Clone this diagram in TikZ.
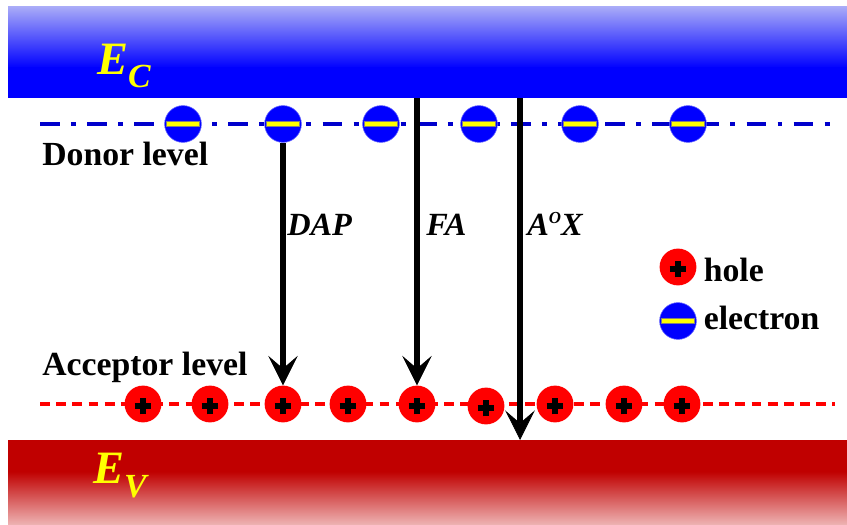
\documentclass[tikz,border=0pt]{standalone}
\usepackage{fontspec}
\setmainfont{Liberation Serif}
\usepackage{xcolor}
\usepackage{tikz}
\usetikzlibrary{arrows.meta,positioning}
\definecolor{blu}{RGB}{0,0,255}
\definecolor{bluchiaro}{RGB}{168,170,248}
\definecolor{blulivello}{RGB}{0,0,204}
\definecolor{rossoscuro}{RGB}{192,0,0}
\definecolor{rosachiaro}{RGB}{238,180,180}
\definecolor{giallo}{RGB}{255,255,0}

\tikzset{
  elettrone/.style={circle, minimum size=0.92cm, inner sep=0pt, fill=blu, draw=blu!60!white, line width=0.4pt,
    path picture={\fill[giallo, draw=black!50, line width=0.3pt]
      ([xshift=-0.41cm,yshift=-0.065cm]path picture bounding box.center) rectangle ++(0.82cm,0.13cm);}},
  lacuna/.style={circle, minimum size=0.92cm, inner sep=0pt, fill=red,
    path picture={\draw[line width=3.6pt]
      ([xshift=-0.21cm,yshift=-0.05cm]path picture bounding box.center) -- ++(0.42cm,0)
      ([yshift=-0.26cm]path picture bounding box.center) -- ++(0,0.42cm);}},
  transizione/.style={line width=4.5pt, -{Stealth[length=21pt,width=21pt,inset=9pt,line width=0.5pt]}},
  etichetta/.style={font=\fontsize{24}{28}\selectfont\bfseries, inner sep=0pt},
  nometrans/.style={font=\fontsize{23}{28}\selectfont\bfseries\itshape, inner sep=0pt, anchor=base west},
  nomebanda/.style={font=\fontsize{33}{36}\selectfont\bfseries\itshape, text=giallo, inner sep=0pt, anchor=base west}
}

\begin{document}
\begin{tikzpicture}[x=0.025cm, y=-0.025cm]
        \useasboundingbox (0,0) rectangle (847,525);
        % bande
        \shade[top color=bluchiaro, bottom color=blu] (8,7) rectangle (847,68);
        \fill[blu] (8,67.5) rectangle (847,98);
        \fill[rossoscuro] (8,440) rectangle (847,472);
        \shade[top color=rossoscuro, bottom color=rosachiaro] (8,471.5) rectangle (847,525);
        \coordinate (ec) at (0,98);
        \coordinate (ev) at (0,440);
        \coordinate (ax) at (520,0);
        \node[nomebanda] (ec lbl) at (97,75) {E\raisebox{-9.2pt}{\fontsize{24}{24}\selectfont C}};
        \node[nomebanda] (ev lbl) at (93,483) {E\raisebox{-10pt}{\fontsize{24}{24}\selectfont V}};
        % livelli
        \draw[blulivello, line width=3pt, dash pattern=on 14pt off 8pt on 3.5pt off 8pt] (40,124) -- (840,124);
        \draw[red, line width=2.8pt, dash pattern=on 7pt off 4.5pt] (40,404) -- (835,404);
        \node[etichetta, anchor=base west] (don) at (42,165) {Donor level};
        \node[etichetta, anchor=base west] (acc) at (42,375) {Acceptor level};
        % elettroni e lacune
        \foreach \x [count=\i] in {183,283,381,479,580,688}
            \node[elettrone] (e\i) at (\x,124) {};
        \foreach \x/\y [count=\i] in {143/404,210/404,283/404,348/404,417/404,486/406,555/404,624/404,682/404}
            \node[lacuna] (h\i) at (\x,\y) {};
        % transizioni
        \draw[transizione] (e2) -- (h3);
        \draw[transizione] (h5 |- ec) -- (h5);
        \draw[transizione] (ax |- ec) -- (ax |- ev);
        \node[nometrans] (dap) at (287,235) {DAP};
        \node[nometrans] (fa) at (426,235) {FA};
        \node[nometrans] (aox) at (527,235) {A\raisebox{8pt}{\fontsize{12}{12}\selectfont O}X};
        % legenda
        \node[lacuna] (lh) at (678,267) {};
        \node[etichetta, right=0.17cm of lh, yshift=-0.07cm] (lh txt) {hole};
        \node[elettrone] (le) at (678,321) {};
        \node[etichetta, right=0.17cm of le, yshift=0.07cm] (le txt) {electron};
    \end{tikzpicture}
\end{document}
